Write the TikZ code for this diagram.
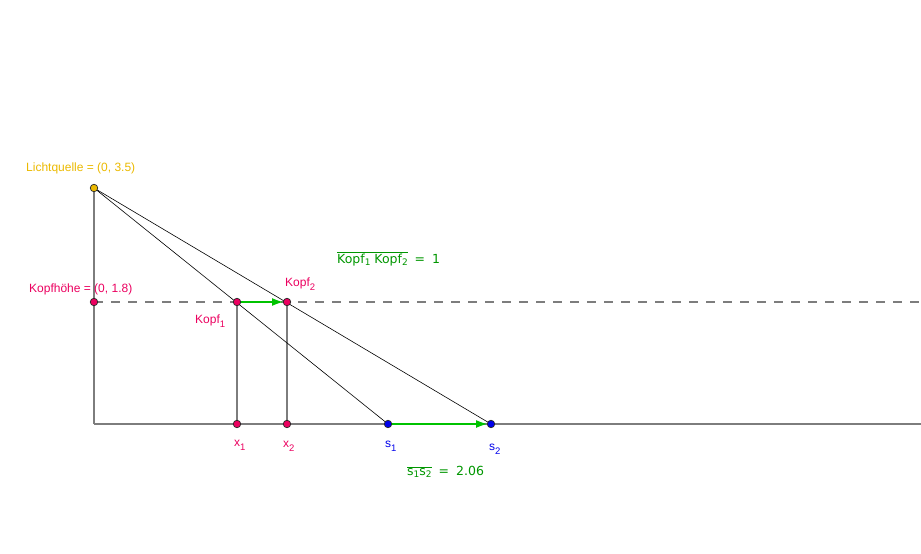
\documentclass[tikz,border=0pt]{standalone}
\usepackage{fontspec}
\setmainfont{Liberation Sans}
\setsansfont{DejaVu Sans}
\usetikzlibrary{arrows.meta}
\definecolor{lgold}{RGB}{235,185,0}
\definecolor{kpink}{RGB}{235,0,95}
\definecolor{sblue}{RGB}{0,0,235}
\definecolor{agreen}{RGB}{0,195,0}
\definecolor{tgreen}{RGB}{0,150,0}
\definecolor{lgray}{RGB}{125,125,125}
\newcommand{\sbs}[1]{\raisebox{-0.6ex}{\fontsize{9.5}{10}\selectfont #1}}
\newcommand{\msb}[1]{\raisebox{-0.35ex}{\fontsize{9}{10}\selectfont #1}}
\tikzset{
  pt/.style={circle,draw=black!85,line width=0.7pt,inner sep=0pt,minimum size=7.5pt},
  glab/.style={font=\fontsize{12}{14}\selectfont,inner sep=0pt},
  gline/.style={lgray,line width=1.8pt},
  ray/.style={black,line width=0.6pt},
  garrow/.style={agreen,line width=2.2pt,-{Latex[length=12pt,width=8pt]},shorten >=3pt},
  mlab/.style={text=tgreen,anchor=west,inner sep=0pt,font=\sffamily\fontsize{12.5}{15}\selectfont}
}
\begin{document}
\begin{tikzpicture}[x=1pt,y=-1pt]
\useasboundingbox (0,0) rectangle (921,554);
% coordinates
\coordinate (L) at (94,188);
\coordinate (K) at (94,302);
\coordinate (O) at (94,424);
\coordinate (Gend) at (921,424);
\coordinate (Dend) at (921,302);
\coordinate (K1) at (237,302);
\coordinate (K2) at (287,302);
\coordinate (X1) at (237,424);
\coordinate (X2) at (287,424);
\coordinate (S1) at (388,424);
\coordinate (S2) at (491,424);
% lines
\draw[lgray,line width=1.8pt,dash pattern=on 9pt off 8pt] (K) -- (Dend);
\draw[gline] (O) -- (Gend);
\draw[gline] (L) -- (O);
\draw[gline] (K1) -- (X1);
\draw[gline] (K2) -- (X2);
\draw[ray] (L) -- (S1);
\draw[ray] (L) -- (S2);
\draw[garrow] (K1) -- (K2);
\draw[garrow] (S1) -- (S2);
% points
\node[pt,fill=lgold] (nL) at (L) {};
\node[pt,fill=kpink] (nK) at (K) {};
\node[pt,fill=kpink] (nK1) at (K1) {};
\node[pt,fill=kpink] (nK2) at (K2) {};
\node[pt,fill=kpink] (nX1) at (X1) {};
\node[pt,fill=kpink] (nX2) at (X2) {};
\node[pt,fill=sblue] (nS1) at (S1) {};
\node[pt,fill=sblue] (nS2) at (S2) {};
% labels
\node[glab,text=lgold,anchor=west] (tL) at (26,168) {Lichtquelle = (0, 3.5)};
\node[glab,text=kpink,anchor=west] (tK) at (29,289) {Kopfhöhe = (0, 1.8)};
\node[glab,text=kpink,anchor=west] (tK2) at (285,284) {Kopf\sbs{2}};
\node[glab,text=kpink,anchor=west] (tK1) at (195,321) {Kopf\sbs{1}};
\node[glab,text=kpink,anchor=west] (tX1) at (234,445) {x\sbs{1}};
\node[glab,text=kpink,anchor=west] (tX2) at (283,446) {x\sbs{2}};
\node[glab,text=sblue,anchor=west] (tS1) at (385,446) {s\sbs{1}};
\node[glab,text=sblue,anchor=west] (tS2) at (489,449) {s\sbs{2}};
\node[mlab] (tKK) at (337,259) {$\overline{\hbox{Kopf\msb{1} Kopf\msb{2}}}$\hspace{7pt}=\hspace{7pt}1};
\node[mlab] (tSS) at (407,472) {$\overline{\hbox{s\msb{1}s\msb{2}}}$\hspace{7pt}=\hspace{7pt}2.06};
\end{tikzpicture}
\end{document}
